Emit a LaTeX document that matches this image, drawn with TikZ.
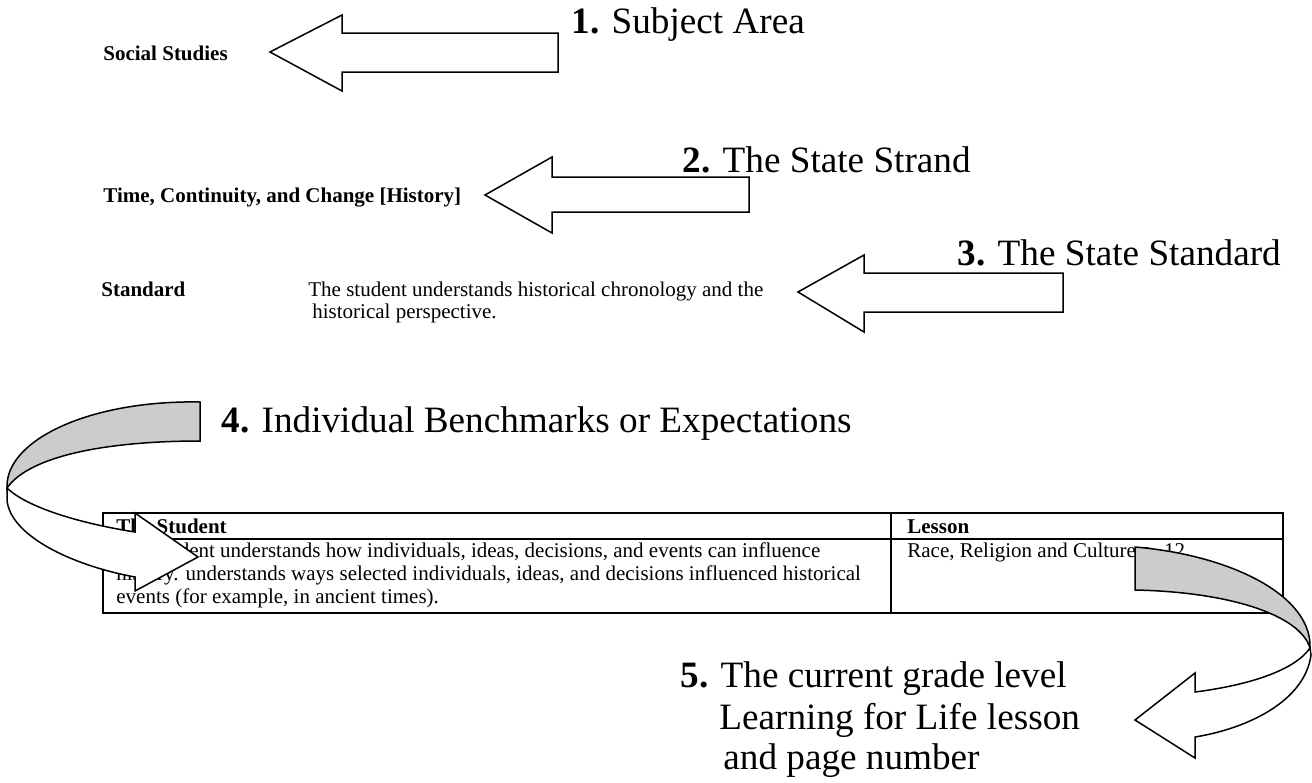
\documentclass[tikz,border=0pt]{standalone}
\usepackage{fontspec}
\setmainfont{Liberation Serif}
\usetikzlibrary{positioning}
\definecolor{foldgray}{gray}{0.8}
\tikzset{
  smalltxt/.style={anchor=base west, inner sep=0pt, font=\fontsize{10.5}{11.25}\selectfont},
  bigtxt/.style={anchor=base west, inner sep=0pt, font=\fontsize{18.6}{20.5}\selectfont},
  blockarrow/.style={draw, fill=white, line width=0.75pt, line join=miter},
  foldface/.style={draw, fill=foldgray, line width=0.75pt, line join=miter},
  tableline/.style={line width=1pt},
}
\begin{document}
\begin{tikzpicture}[x=0.5pt, y=-0.5pt]
    \useasboundingbox (0,0) rectangle (1312,782);

    % left column texts
    \node[smalltxt] (subject) at (103,60) {\bfseries Social Studies};
    \node[smalltxt] (strand) at (103,202) {\bfseries Time, Continuity, and Change [History]};
    \node[smalltxt] (stdhead) at (101,296) {\bfseries Standard};
    \node[smalltxt] (stdtext) at (308,296) {The student understands historical chronology and the};
    \node[smalltxt] (stdtextb) at (312,318) {historical perspective.};

    % numbered labels
    \node[bigtxt] (lab1) at (571,33) {\textbf{1.} Subject Area};
    \node[bigtxt] (lab2) at (682,172) {\textbf{2.} The State Strand};
    \node[bigtxt] (lab3) at (957,265) {\textbf{3.} The State Standard};
    \node[bigtxt] (lab4) at (221,432) {\textbf{4.} Individual Benchmarks or Expectations};
    \node[bigtxt] (lab5) at (680,687) {\textbf{5.} The current grade level};
    \node[bigtxt] (lab5b) at (719,729) {Learning for Life lesson};
    \node[bigtxt] (lab5c) at (723,769) {and page number};

    % straight block arrows
    \draw[blockarrow] (270,52) -- (342,15) -- (342,33) -- (558,33) -- (558,72) -- (342,72) -- (342,91) -- cycle;
    \draw[blockarrow] (485,195) -- (552,157) -- (552,177) -- (749,177) -- (749,212) -- (552,212) -- (552,233) -- cycle;
    \draw[blockarrow] (798,292) -- (864,255) -- (864,273) -- (1063,273) -- (1063,312) -- (864,312) -- (864,332) -- cycle;

    % benchmark table
    \draw[tableline] (103,513) rectangle (1283,613);
    \draw[tableline] (103,539) -- (1283,539);
    \draw[tableline] (891,513) -- (891,613);
    \node[smalltxt] (colstudent) at (116,533) {\bfseries The Student};
    \node[smalltxt] (collesson) at (907,533) {\bfseries Lesson};
    \node[smalltxt] (rowa) at (116,557) {The student understands how individuals, ideas, decisions, and events can influence};
    \node[smalltxt] (rowb) at (116,580) {history. understands ways selected individuals, ideas, and decisions influenced historical};
    \node[smalltxt] (rowc) at (116,603) {events (for example, in ancient times).};
    \node[smalltxt] (lesson) at (907,557) {Race, Religion and Culture p. 12};

    % curved arrow into the table
    \draw[foldface] (200,402) .. controls (90,400) and (5,440) .. (7,488)
        .. controls (30,455) and (110,441) .. (200,441) -- cycle;
    \draw[blockarrow] (7,488) -- (7,500) .. controls (10,535) and (70,565) .. (135,577)
        -- (135,591) -- (198,557) -- (135,513) -- (135,532)
        .. controls (90,525) and (30,510) .. (7,488) -- cycle;

    % curved arrow out of the table
    \draw[foldface] (1135,547) .. controls (1230,555) and (1312,595) .. (1310,648)
        .. controls (1300,615) and (1230,592) .. (1135,590) -- cycle;
    \draw[blockarrow] (1310,648) -- (1311,655) .. controls (1305,700) and (1250,728) .. (1195,737)
        -- (1195,758) -- (1135,720) -- (1195,673) -- (1195,692)
        .. controls (1250,685) and (1295,670) .. (1310,648) -- cycle;
\end{tikzpicture}
\end{document}
